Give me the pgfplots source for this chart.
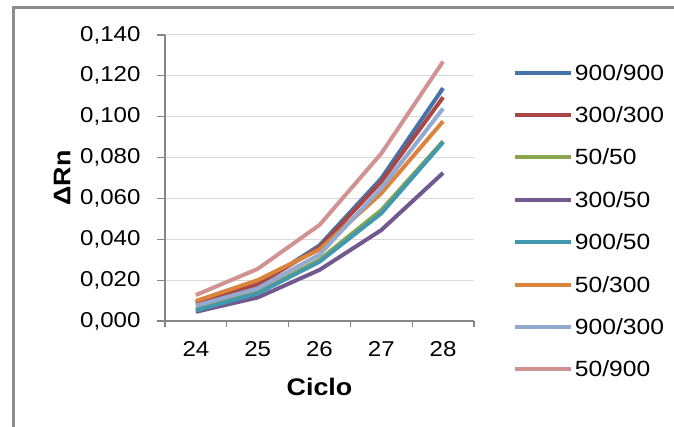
\documentclass[border=0pt]{standalone}
\usepackage{pgfplots}
\pgfplotsset{compat=1.18}
\usepackage{pgfplotstable}
\usepackage{fontspec}
\setmainfont{Liberation Sans}[FakeStretch=1.12]
\definecolor{cA}{RGB}{69,114,167}
\definecolor{cB}{RGB}{170,70,67}
\definecolor{cC}{RGB}{137,165,78}
\definecolor{cD}{RGB}{113,88,143}
\definecolor{cE}{RGB}{65,152,175}
\definecolor{cF}{RGB}{219,132,61}
\definecolor{cG}{RGB}{147,169,207}
\definecolor{cH}{RGB}{209,147,146}
\definecolor{axgray}{RGB}{134,134,134}
\definecolor{gridgray}{RGB}{217,217,217}
\definecolor{framegray}{RGB}{140,140,140}

\pgfplotstableread{
x  a       b       c      d       e       f       g       h
1  0.0085  0.0090  0.0060 0.0045  0.0052  0.0098  0.0075  0.0127
2  0.0175  0.0180  0.0140 0.0115  0.0135  0.0200  0.0160  0.0255
3  0.0370  0.0360  0.0300 0.0250  0.0290  0.0350  0.0325  0.0470
4  0.0698  0.0682  0.0543 0.0445  0.0527  0.0625  0.0650  0.0820
5  0.1140  0.1095  0.0880 0.0725  0.0875  0.0978  0.1040  0.1270
}\data

\begin{document}
\begin{tikzpicture}
\useasboundingbox (0bp,0bp) rectangle (674bp,427bp);
\draw[framegray, line width=3bp] (13bp,0bp) -- (13bp,419.3bp) -- (674bp,419.3bp);
\begin{axis}[
  at={(165bp,106bp)}, anchor=south west,
  scale only axis, width=309bp, height=286bp,
  xmin=0.5, xmax=5.5, ymin=0, ymax=0.14,
  axis x line*=bottom, axis y line*=left,
  axis line style={draw=axgray, line width=1.2bp, -},
  xtick={1,2,3,4,5}, xticklabels={24,25,26,27,28},
  xtick style={draw=none},
  extra x ticks={0.5,1.5,2.5,3.5,4.5,5.5},
  extra x tick labels={},
  extra x tick style={xtick style={draw=axgray, line width=1.2bp}, major tick length=6bp, tick align=outside},
  ytick={0,0.02,0.04,0.06,0.08,0.1,0.12,0.14},
  ytick style={draw=axgray, line width=1.2bp},
  tick align=outside, major tick length=8bp,
  ymajorgrids, grid style={gridgray, line width=1bp},
  /pgf/number format/fixed, /pgf/number format/fixed zerofill,
  /pgf/number format/precision=3, /pgf/number format/use comma,
  /pgf/number format/assume math mode=true,
  ticklabel style={font=\fontsize{21.5bp}{23bp}\selectfont},
  yticklabel style={xshift=-13bp},
  xticklabel style={yshift=-9bp},
  ylabel={\textbf{ΔRn}},
  ylabel style={at={(axis description cs:-0.3333,0.5)}, anchor=center, font=\fontsize{24bp}{26bp}\selectfont},
  xlabel={\textbf{Ciclo}},
  xlabel style={at={(axis description cs:0.5,0)}, yshift=-66bp, anchor=center, font=\fontsize{24bp}{26bp}\selectfont},
  legend style={draw=none, fill=none, at={(axis description cs:1.126,0.895)}, anchor=north west,
    inner sep=0pt, outer sep=0pt, row sep=27.4bp, column sep=2bp,
    font=\fontsize{22bp}{24bp}\selectfont,
    nodes={inner sep=0pt, outer sep=0pt, text height=15bp, text depth=0bp}},
  legend cell align=left,
  legend image code/.code={\draw[#1, line width=4bp] (0bp,0bp) -- (56bp,0bp);},
  every axis plot/.append style={line width=4bp, line join=round},
]
\addplot[cA, no marks] table[x=x,y=a]{\data};
\addlegendentry{900/900}
\addplot[cB, no marks] table[x=x,y=b]{\data};
\addlegendentry{300/300}
\addplot[cC, no marks] table[x=x,y=c]{\data};
\addlegendentry{50/50}
\addplot[cD, no marks] table[x=x,y=d]{\data};
\addlegendentry{300/50}
\addplot[cE, no marks] table[x=x,y=e]{\data};
\addlegendentry{900/50}
\addplot[cF, no marks] table[x=x,y=f]{\data};
\addlegendentry{50/300}
\addplot[cG, no marks] table[x=x,y=g]{\data};
\addlegendentry{900/300}
\addplot[cH, no marks] table[x=x,y=h]{\data};
\addlegendentry{50/900}
\end{axis}
\end{tikzpicture}
\end{document}
